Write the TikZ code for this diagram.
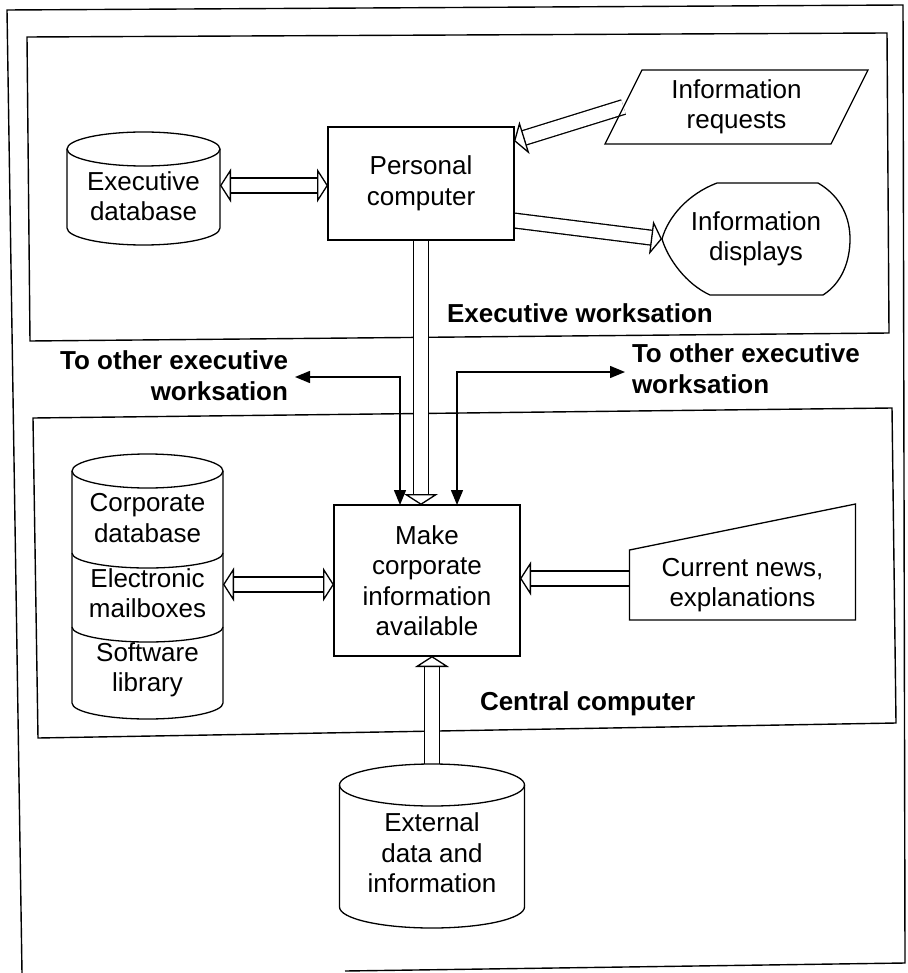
\documentclass[tikz,border=0pt]{standalone}
\usepackage{fontspec}
\setmainfont{Liberation Sans}
\usetikzlibrary{arrows.meta}
\begin{document}
\begin{tikzpicture}[x=1pt,y=-1pt,
  every node/.style={inner sep=0pt, outer sep=0pt, align=center,
    font=\fontsize{26}{30.5}\selectfont},
  outline/.style={line width=1.3pt},
  borderline/.style={line width=1.4pt},
  boldlabel/.style={font=\fontsize{26}{30.5}\selectfont\bfseries},
  hollow/.style={double, double distance=13.5pt, line width=1.3pt},
  htip/.tip={Triangle[open, length=11pt, width=34pt, line width=1.3pt]},
  thinarrow/.style={line width=1.4pt,
    {Triangle[length=15pt,width=12pt]}-{Triangle[length=15pt,width=12pt]}}
]
\fill[white] (0,0) rectangle (907,973);
\useasboundingbox (0,0) rectangle (907,973);

% frames
\draw[borderline] (22,973) -- (7,10) -- (903,5) -- (905,963) -- (345,971);
\draw[borderline] (27,37) -- (887,33) -- (889,333) -- (30,341) -- cycle;
\draw[borderline] (33,418) -- (892,408) -- (896,723) -- (38,738) -- cycle;

% text nodes
\node (edb) at (143.5,196) {Executive\\database};
\node[minimum width=186pt, minimum height=113pt] (pc) at (421,183.5) {Personal\\computer};
\node[minimum width=186pt, minimum height=151pt] (make) at (427,580.5)
  {Make\\corporate\\information\\available};
\node[minimum width=226pt, minimum height=74pt] (ireq) at (736.5,107) {Information\\requests};
\node[minimum width=188pt, minimum height=112pt] (idisp) at (756,239) {Information\\displays};
\node[minimum width=226pt, minimum height=70pt] (news) at (742.5,585) {Current news,\\explanations};
\node (corpA) at (147.5,518) {Corporate\\database};
\node (corpB) at (147.5,593) {Electronic\\mailboxes};
\node (corpC) at (147.5,670) {Software\\library};
\node (ext) at (432,853) {External\\data and\\information};

\node[boldlabel, anchor=base west] (exws) at (447,322) {Executive worksation};
\node[boldlabel, align=right, anchor=east] (otherL) at (288,375.5) {To other executive\\worksation};
\node[boldlabel, align=left, anchor=west] (otherR) at (632,368.5) {To other executive\\worksation};
\node[boldlabel, anchor=base west] (ccomp) at (480,710) {Central computer};

% hollow connectors
\coordinate (edbR) at ([xshift=76.5pt,yshift=10.5pt]edb.center);
\draw[hollow,{htip}-{htip}] (edbR) -- (edbR -| pc.west);
\coordinate (pcR1) at ([yshift=42.5pt]pc.east);
\draw[hollow,-{htip}] (ireq.west) -- (pcR1);
\coordinate (pcR2) at ([yshift=-37pt]pc.east);
\draw[hollow,-{htip}] (pcR2) -- (idisp.west);
\draw[hollow,-{htip}] (pc.south) -- (pc.south |- make.north);
\coordinate (corpR) at ([xshift=75.5pt,yshift=8.5pt]corpB.center);
\draw[hollow,{htip}-{htip}] (corpR) -- (corpR -| make.west);
\coordinate (newsL) at ([yshift=6.5pt]news.west);
\draw[hollow,-{htip}] (newsL) -- (newsL -| make.east);
\coordinate (extTop) at ([yshift=89pt]ext.center);
\draw[hollow,-{htip}] (extTop) -- (extTop |- make.south);

% links to the other workstations
\coordinate (mkL) at ([xshift=66pt]make.north west);
\coordinate (mkR) at ([xshift=123pt]make.north west);
\draw[thinarrow] (mkL) |- ([xshift=7pt,yshift=-1.5pt]otherL.east);
\draw[thinarrow] (mkR) |- ([xshift=-7pt,yshift=-3.5pt]otherR.west);

% boxes and symbols
\draw[outline] (pc.north west) rectangle (pc.south east);
\draw[outline] (make.north west) rectangle (make.south east);
\draw[outline] ([xshift=18.5pt]ireq.north west) -- ([xshift=18.5pt]ireq.north east)
  -- ([xshift=-18.5pt]ireq.south east) -- ([xshift=-18.5pt]ireq.south west) -- cycle;
\draw[outline] (news.south west) -- (news.north west) -- ([yshift=46pt]news.north east)
  -- (news.south east) -- cycle;
\begin{scope}[shift={(idisp.center)}]
  \draw[outline] (-39,-56) -- (62,-56) .. controls (86,-42) and (94,-20) .. (94,0)
    .. controls (94,22) and (86,44) .. (67,56) -- (-46,56)
    .. controls (-70,45) and (-88,20) .. (-94,0)
    .. controls (-88,-22) and (-68,-45) .. cycle;
\end{scope}
% executive database
\begin{scope}[shift={(edb.center)}]
  \draw[outline] (-76.5,-47) -- (-76.5,32)
    arc[start angle=180,end angle=360,x radius=76.5pt,y radius=17pt] -- (76.5,-47);
  \draw[outline] (0,-47) ellipse[x radius=76.5pt,y radius=17pt];
\end{scope}
% corporate stack
\begin{scope}[shift={(corpB.center)}]
  \draw[outline] (-75.5,-122) -- (-75.5,110)
    arc[start angle=180,end angle=360,x radius=75.5pt,y radius=16pt] -- (75.5,-122);
  \draw[outline] (0,-122) ellipse[x radius=75.5pt,y radius=17pt];
  \draw[outline] (-75.5,-40) arc[start angle=180,end angle=360,x radius=75.5pt,y radius=15pt];
  \draw[outline] (-75.5,34) arc[start angle=180,end angle=360,x radius=75.5pt,y radius=15pt];
\end{scope}
% external data
\begin{scope}[shift={(ext.center)}]
  \draw[outline] (-92.5,-68) -- (-92.5,54)
    arc[start angle=180,end angle=360,x radius=92.5pt,y radius=21pt] -- (92.5,-68);
  \draw[outline] (0,-68) ellipse[x radius=92.5pt,y radius=21pt];
\end{scope}
\end{tikzpicture}
\end{document}
